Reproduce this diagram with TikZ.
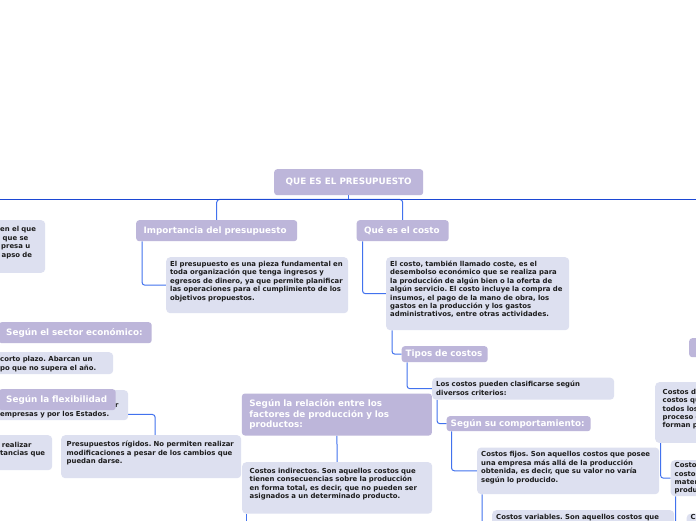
\documentclass[tikz,border=0pt]{standalone}
\usepackage{fontspec}
\setmainfont{DejaVu Sans}
\usetikzlibrary{backgrounds}
\definecolor{headfill}{HTML}{BDB6DA}
\definecolor{leaffill}{HTML}{DDE0F0}
\definecolor{busblue}{HTML}{1C48D4}
\definecolor{linkblue}{HTML}{4272EE}
\definecolor{ink}{HTML}{1C1C1C}
\hyphenpenalty=10000
\exhyphenpenalty=10000
\newcommand\headfont{\fontsize{8.8}{10.5}\selectfont\bfseries\frenchspacing}
\newcommand\leaffont{\fontsize{6.9}{8.4}\selectfont\bfseries\frenchspacing}
\tikzset{
  head/.style={fill=headfill,text=white,rounded corners=3pt,anchor=north west,
    align=left,inner xsep=7.5pt,inner ysep=0pt,font=\headfont},
  rootbox/.style={head,align=center,inner xsep=0pt,minimum width=149pt,minimum height=26pt},
  leaf/.style={fill=leaffill,text=ink,rounded corners=4pt,anchor=north west,
    align=left,inner xsep=4pt,inner ysep=0pt,font=\leaffont},
  link/.style={draw=linkblue,line width=1pt,rounded corners=3pt}
}
\begin{document}
\begin{tikzpicture}[x=1pt,y=-1pt]
\useasboundingbox (0,0) rectangle (696,520);
\clip (0,0) rectangle (696,520);

\node[rootbox] (root) at (274,169) {QUE ES EL PRESUPUESTO};
\node[head,text width=146pt,minimum height=21pt] (imp) at (136,220) {Importancia del presupuesto};
\node[head,text width=77pt,minimum height=21pt] (quees) at (356.5,220) {Qué es el costo};
\node[head,inner xsep=4pt,text width=78pt,minimum height=16pt] (tipos) at (401.5,346) {Tipos de costos};
\node[head,inner xsep=4pt,text width=136pt,minimum height=15pt] (comport) at (446.5,416) {Según su comportamiento:};
\node[head,text width=175pt,minimum height=42pt] (relacion) at (241.7,393.3)
  {Según la relación entre los\\factores de producción y los\\productos:};
\node[head,text width=138pt,minimum height=21pt] (sector) at (-1.5,322) {Según el sector económico:};
\node[head,text width=45pt,minimum height=19pt] (otros) at (689,338) {};

\node[leaf,text width=174pt,text height=9.3pt,text depth=46.7pt] (impnote) at (166,257)
  {El presupuesto es una pieza fundamental en\\toda organización que tenga ingresos y\\egresos de dinero, ya que permite planificar\\las operaciones para el cumplimiento de los\\objetivos propuestos.};
\node[leaf,text width=175pt,text height=9.3pt,text depth=63.7pt] (costnote) at (386,257)
  {El costo, también llamado coste, es el\\desembolso económico que se realiza para\\la producción de algún bien o la oferta de\\algún servicio. El costo incluye la compra de\\insumos, el pago de la mano de obra, los\\gastos en la producción y los gastos\\administrativos, entre otras actividades.};
\node[leaf,text width=174pt,text height=9pt,text depth=13pt] (clasif) at (432,377.5)
  {Los costos pueden clasificarse según\\diversos criterios:};
\node[leaf,text width=174pt,text height=9.3pt,text depth=37.4pt] (fijos) at (477,447.3)
  {Costos fijos. Son aquellos costos que posee\\una empresa más allá de la producción\\obtenida, es decir, que su valor no varía\\según lo producido.};
\node[leaf,text width=174pt,text height=9.5pt,text depth=35.5pt] (variables) at (492,510)
  {Costos variables. Son aquellos costos que};
\node[leaf,inner xsep=7.5pt,text width=175pt,text height=11.3pt,text depth=40.2pt] (indirectos) at (242,462)
  {Costos indirectos. Son aquellos costos que\\tienen consecuencias sobre la producción\\en forma total, es decir, que no pueden ser\\asignados a un determinado producto.};
\node[leaf,inner xsep=5.5pt,text width=169pt,text height=11.6pt,text depth=31.4pt] (rigidos) at (61,435)
  {Presupuestos rígidos. No permiten realizar\\modificaciones a pesar de los cambios que\\puedan darse.};
\node[leaf,text width=41pt,text height=11.6pt,text depth=41pt] (definicion) at (-4,220)
  {en el que\\\hspace*{2.5pt}que se\\\hspace*{1pt}presa u\\\hspace*{1.5pt}apso de};
\node[leaf,text width=109pt,text height=9.6pt,text depth=12.4pt] (corto) at (-4,352)
  {corto plazo. Abarcan un\\po que no supera el año.};
\node[leaf,text width=124pt,text height=9pt,text depth=21pt] (estados) at (-4,390)
  {\mbox{}\\\hspace*{115pt}r\\empresas y por los Estados.};
\node[leaf,text width=48pt,text height=12pt,text depth=23pt] (flexibles) at (-4,435)
  {\hspace*{1.7pt}realizar\\tancias que};
\node[head,text width=102pt,minimum height=21pt] (flex) at (-1.5,389) {Según la flexibilidad};
\node[leaf,inner xsep=7.5pt,text width=120pt,text height=12pt,text depth=48.7pt] (directos) at (655,382)
  {Costos directos. Son\\costos que\\todos los\\proceso de\\forman parte};
\node[leaf,text width=120pt,text height=7.5pt,text depth=28.5pt] (semi) at (670.5,460)
  {Costos\\costos\\materiales\\producción};
\node[leaf,text width=60pt,text height=6pt,text depth=24pt] (cnode) at (686.5,513.5) {Costos};

\begin{scope}[on background layer]
\fill[white] (0,0) rectangle (696,520);
\path (root.south) ++(0,4) coordinate (hub)
  (hub) ++(-400,0) coordinate (busw)
  (hub) ++(400,0) coordinate (buse)
  (indirectos.south west) ++(4,30) coordinate (below);
\draw[link] (root.south) -- (hub);
\draw[link] (hub) -| (imp.north);
\draw[link] (hub) -| (quees.north);
\draw[busblue,line width=1.2pt] (busw) -- (buse);
\foreach \a/\b/\dx in {imp/impnote/6pt, quees/costnote/6pt, costnote/tipos/6pt,
  tipos/clasif/5.5pt, clasif/comport/5pt, comport/fijos/5pt, fijos/variables/5pt,
  directos/semi/5.5pt, semi/cnode/5pt}
  \draw[link] ([xshift=\dx]\a.south west) |- (\b.west);
\draw[link] (relacion.south) -- (indirectos.north);
\draw[link] ([xshift=4pt]indirectos.south west) -- (below);
\draw[link] (flex.south) -- ++(0,4) -| ([xshift=4pt]rigidos.north);
\end{scope}
\end{tikzpicture}
\end{document}
